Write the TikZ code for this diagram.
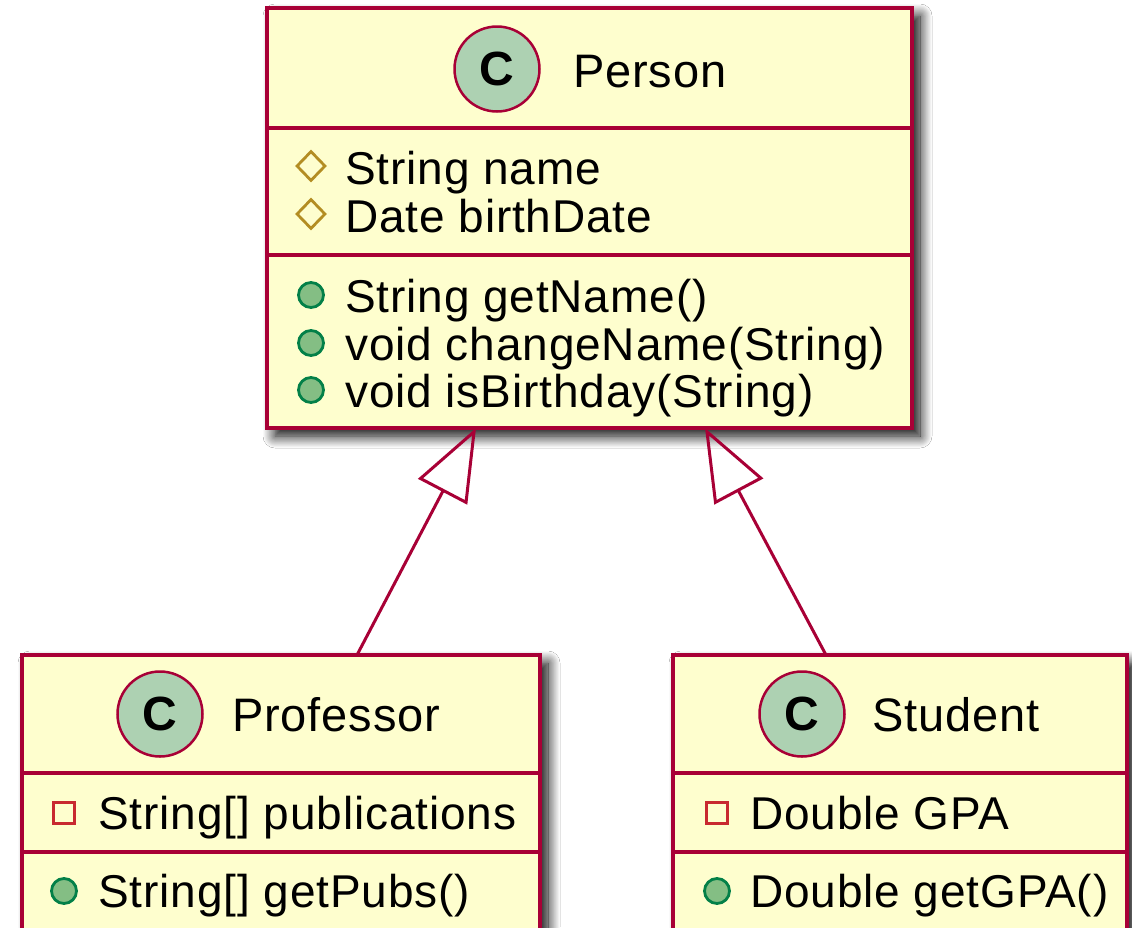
\documentclass[tikz,border=0pt]{standalone}
\usepackage{fontspec}
\setmainfont{Liberation Sans}
\newfontfamily\umltext[LetterSpace=1.9]{Liberation Sans}
\usetikzlibrary{arrows.meta,shapes.geometric,shadows.blur}
\definecolor{umlborder}{HTML}{A80036}
\definecolor{umlfill}{HTML}{FEFECE}
\definecolor{circfill}{HTML}{ADD1B2}
\definecolor{protcol}{HTML}{B38D22}
\definecolor{privcol}{HTML}{C82930}
\definecolor{pubfill}{HTML}{84BE84}
\definecolor{pubdraw}{HTML}{038048}
\tikzset{
  classbox/.style={rectangle, draw=umlborder, fill=umlfill, line width=4pt, inner sep=0, outer sep=0,
    blur shadow={shadow xshift=8pt, shadow yshift=-8pt, shadow blur radius=12pt, shadow opacity=100, shadow blur steps=14}},
  sepline/.style={draw=umlborder, line width=4pt},
  classicon/.style={circle, fill=circfill, draw=umlborder, line width=2.5pt, minimum size=85pt, inner sep=0,
    font=\fontsize{48}{48}\selectfont\bfseries},
  titletext/.style={anchor=base west, inner sep=0, font=\umltext\fontsize{47}{48}\selectfont},
  membertext/.style={anchor=base west, inner sep=0, font=\umltext\fontsize{46}{48}\selectfont},
  protico/.style={diamond, draw=protcol, line width=2.8pt, minimum width=29pt, minimum height=30pt, inner sep=0},
  privico/.style={rectangle, draw=privcol, line width=2.6pt, minimum size=21pt, inner sep=0},
  pubico/.style={circle, draw=pubdraw, fill=pubfill, line width=2.8pt, minimum size=25pt, inner sep=0},
  inherit/.style={draw=umlborder, line width=3pt, -{Triangle[open, length=72pt, width=55pt]}},
}
\begin{document}
\begin{tikzpicture}[x=1pt,y=-1pt]
\useasboundingbox (0,0) rectangle (1132,927);
\clip (0,0) rectangle (1132,927);
\fill[white] (0,0) rectangle (1132,927);

% Person
\node[classbox, minimum width=645pt, minimum height=420pt, anchor=north west] (person) at (267,8) {};
\draw[sepline] (269,128) -- (910,128);
\draw[sepline] (269,255) -- (910,255);
\node[classicon] (personC) at (497,69) {C};
\node[titletext] (personT) at (573,87) {Person};
\node[protico] (pa1i) at (311,166) {};
\node[membertext] (pa1) at (345,184) {String name};
\node[protico] (pa2i) at (311,214) {};
\node[membertext] (pa2) at (345,232) {Date birthDate};
\node[pubico] (pm1i) at (311,295) {};
\node[membertext] (pm1) at (345,312) {String getName()};
\node[pubico] (pm2i) at (311,343) {};
\node[membertext] (pm2) at (345,360) {void changeName(String)};
\node[pubico] (pm3i) at (311,390) {};
\node[membertext] (pm3) at (345,407) {void isBirthday(String)};

% Professor
\node[classbox, minimum width=518pt, minimum height=320pt, anchor=north west] (prof) at (22,655) {};
\draw[sepline] (24,773) -- (538,773);
\draw[sepline] (24,852) -- (538,852);
\node[classicon] (profC) at (160,714) {C};
\node[titletext] (profT) at (232,731) {Professor};
\node[privico] (fa1i) at (64,813) {};
\node[membertext] (fa1) at (98,829) {String[] publications};
\node[pubico] (fm1i) at (64,891) {};
\node[membertext] (fm1) at (98,907) {String[] getPubs()};

% Student
\node[classbox, minimum width=454pt, minimum height=320pt, anchor=north west] (stud) at (673,655) {};
\draw[sepline] (675,773) -- (1125,773);
\draw[sepline] (675,852) -- (1125,852);
\node[classicon] (studC) at (802,714) {C};
\node[titletext] (studT) at (872,731) {Student};
\node[privico] (sa1i) at (717,813) {};
\node[membertext] (sa1) at (750,829) {Double GPA};
\node[pubico] (sm1i) at (717,891) {};
\node[membertext] (sm1) at (750,907) {Double getGPA()};

% Inheritance
\coordinate (pl) at ([xshift=209pt]person.south west);
\coordinate (pr) at ([xshift=438pt]person.south west);
\coordinate (profTop) at ([xshift=335pt]prof.north west);
\coordinate (studTop) at ([xshift=153pt]stud.north west);
\draw[inherit] (profTop) -- (pl);
\draw[inherit] (studTop) -- (pr);
\end{tikzpicture}
\end{document}
